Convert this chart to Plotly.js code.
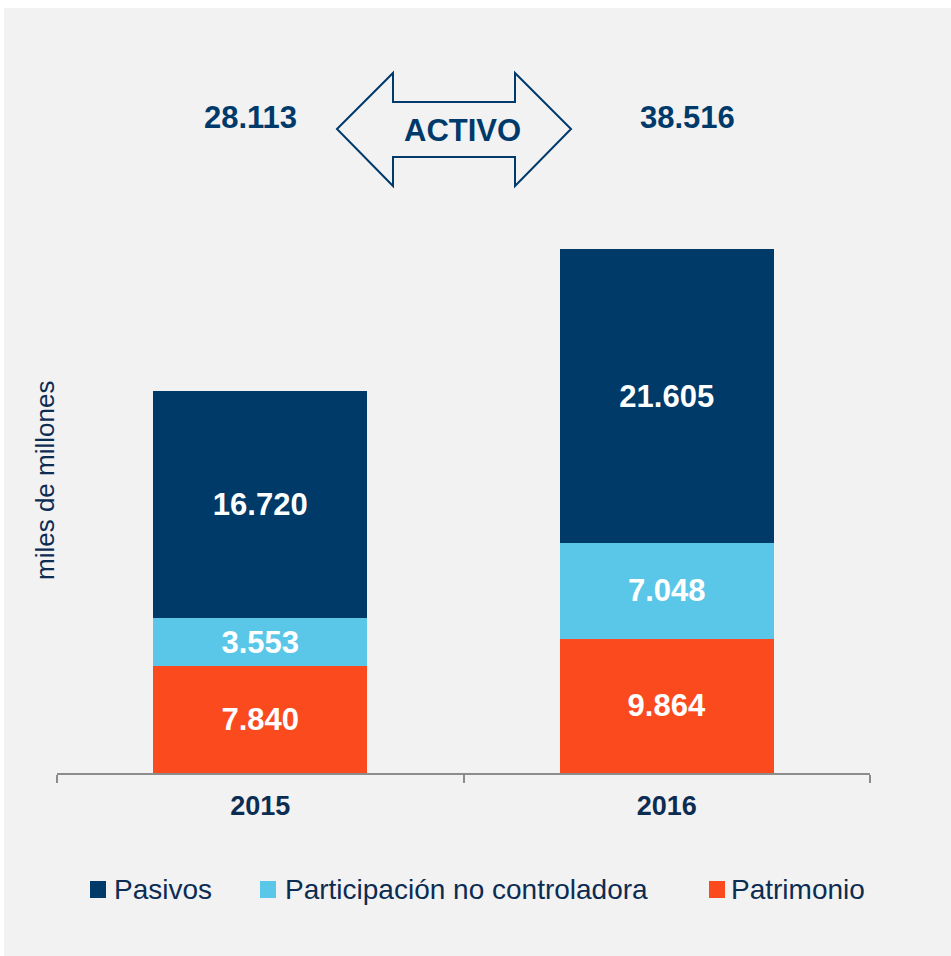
<!DOCTYPE html>
<html>
<head>
<meta charset="utf-8">
<script src="https://cdn.plot.ly/plotly-3.0.1.min.js"></script>
<style>
  html, body { margin: 0; padding: 0; background: #ffffff; width: 951px; height: 956px; overflow: hidden; }
  #chart { position: absolute; left: 4px; top: 8px; width: 947px; height: 948px; }
</style>
</head>
<body>
<div id="chart"></div>
<script>
// ---- data ----
const years = ["2015", "2016"];
const seriesNames = ["Pasivos", "Participación no controladora", "Patrimonio"];
const pasivos = [16720, 21605];
const participacion = [3553, 7048];
const patrimonio = [7840, 9864];
const activoTotals = [28113, 38516];
const centerLabel = "ACTIVO";
const yAxisTitle = "miles de millones";

const colors = { pasivos: "#003a68", participacion: "#5bc7e8", patrimonio: "#fc4a1f" };
const navyText = "#003a6b";
const darkText = "#0c2c52";
const FONT = "Liberation Sans, Arial, sans-serif";

// page-pixel -> paper helpers (plot area: x 57..870, y 229..773 in page px)
const PX0 = 57, PX1 = 870, PY0 = 229, PY1 = 773;
const px = x => (x - PX0) / (PX1 - PX0);
const py = y => (PY1 - y) / (PY1 - PY0);

function fmt(n) {
  return String(Math.round(n)).replace(/\B(?=(\d{3})+(?!\d))/g, ".");
}

const barCommon = {
  type: "bar",
  x: years,
  width: 0.527,
  texttemplate: "%{y:,.0f}",
  textposition: "inside",
  insidetextanchor: "middle",
  textangle: 0,
  constraintext: "none",
  textfont: { family: FONT, size: 31, color: "#ffffff", weight: "bold" },
  hoverinfo: "skip",
  showlegend: false
};

const traces = [
  Object.assign({}, barCommon, { name: seriesNames[2], y: patrimonio, marker: { color: colors.patrimonio, line: { width: 0 } } }),
  Object.assign({}, barCommon, { name: seriesNames[1], y: participacion, marker: { color: colors.participacion, line: { width: 0 } } }),
  Object.assign({}, barCommon, { name: seriesNames[0], y: pasivos, marker: { color: colors.pasivos, line: { width: 0 } } })
];

// arrow outline (decoration)
const arrowPts = [[337,129],[393,73],[393,102],[515,102],[515,73],[571,129],[515,186],[515,157],[393,157],[393,186]];
const arrowPath = "M" + arrowPts.map(p => px(p[0]).toFixed(5) + "," + py(p[1]).toFixed(5)).join(" L") + " Z";

const shapes = [
  { type: "path", xref: "paper", yref: "paper", path: arrowPath, line: { color: navyText, width: 2 }, fillcolor: "rgba(0,0,0,0)" }
];

// custom legend
const legendItems = [
  { name: seriesNames[0], color: colors.pasivos, sq: 90, tx: 112 },
  { name: seriesNames[1], color: colors.participacion, sq: 260, tx: 283 },
  { name: seriesNames[2], color: colors.patrimonio, sq: 709, tx: 729 }
];
legendItems.forEach(it => {
  shapes.push({ type: "rect", xref: "paper", yref: "paper",
    x0: px(it.sq), x1: px(it.sq + 16), y0: py(881), y1: py(898),
    fillcolor: it.color, line: { width: 0 } });
});

const annotations = [];
years.forEach((yr, i) => {
  annotations.push({ xref: "x", yref: "paper", x: i, y: py(118), text: fmt(activoTotals[i]),
    showarrow: false, xanchor: "center", yanchor: "middle", xshift: i === 0 ? -10 : 21,
    font: { family: FONT, size: 31, color: navyText, weight: "bold" } });
});
annotations.push({ xref: "paper", yref: "paper", x: px(462), y: py(131), text: centerLabel,
  showarrow: false, xanchor: "center", yanchor: "middle",
  font: { family: FONT, size: 31, color: navyText, weight: "bold" } });
annotations.push({ xref: "paper", yref: "paper", x: px(45), y: py(481), text: yAxisTitle,
  showarrow: false, textangle: -90, xanchor: "center", yanchor: "middle",
  font: { family: FONT, size: 26, color: darkText } });
legendItems.forEach(it => {
  annotations.push({ xref: "paper", yref: "paper", x: px(it.tx), y: py(889), text: it.name,
    showarrow: false, xanchor: "left", yanchor: "middle",
    font: { family: FONT, size: 28, color: darkText } });
});

const layout = {
  width: 947, height: 948,
  margin: { l: 53, r: 81, t: 221, b: 183, pad: 0 },
  paper_bgcolor: "#f2f2f2",
  plot_bgcolor: "#f2f2f2",
  barmode: "stack",
  separators: ",.",
  showlegend: false,
  xaxis: {
    type: "category",
    range: [-0.5, 1.5],
    autorange: false,
    tickson: "boundaries",
    tickangle: 0,
    ticks: "outside", ticklen: 8, tickwidth: 2, tickcolor: "#8c8c8c",
    showline: true, linecolor: "#8c8c8c", linewidth: 2,
    showgrid: false, zeroline: false,
    ticklabelstandoff: 8,
    tickfont: { family: "Liberation Sans Narrow, Liberation Sans, Arial, sans-serif", size: 27, color: darkText, weight: "bold" },
    fixedrange: true
  },
  yaxis: {
    range: [0, 40000],
    autorange: false,
    visible: false, showgrid: false, zeroline: false, fixedrange: true
  },
  shapes: shapes,
  annotations: annotations
};

Plotly.newPlot("chart", traces, layout, { displayModeBar: false, staticPlot: true });
</script>
</body>
</html>
